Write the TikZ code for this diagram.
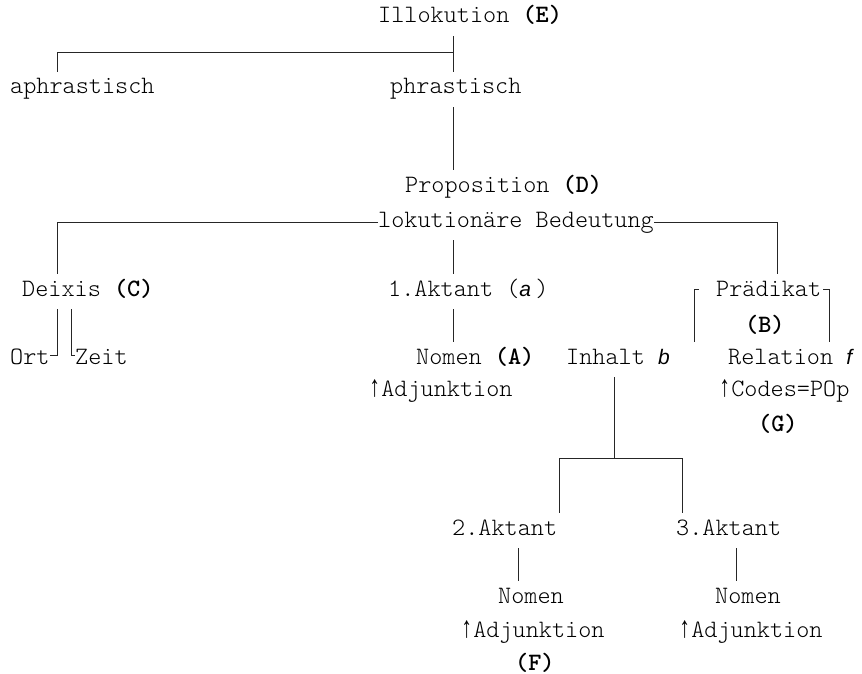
\documentclass[tikz,border=0pt]{standalone}
\usepackage{fontspec}
\setmainfont{Latin Modern Mono Light}
\newfontfamily\varsans{Liberation Sans}
\newfontfamily\arrowfont{Liberation Mono}
\usepackage{tikz}
\pgfdeclarelayer{bg}
\pgfsetlayers{bg,main}
\tikzset{
        lbl/.style={anchor=base west, inner xsep=0pt, inner ysep=9pt,
                text height=13pt, text depth=4pt,
                font=\fontsize{25}{28}\selectfont},
        link/.style={draw=black!85, line width=0.8pt}
}
\newcommand{\var}[1]{{\varsans\itshape\fontsize{21}{24}\selectfont #1}}
\newcommand{\up}{\makebox[0.525em]{\arrowfont\scalebox{0.85}[1.2]{↑}}}

\begin{document}
\begin{tikzpicture}[x=1pt, y=-1pt]
        \useasboundingbox (0,0) rectangle (862,674);
        \node (ill) [lbl] at (378, 23) {Illokution \textbf{(E)}};
        \node (aph) [lbl] at (10, 94) {aphrastisch};
        \node (phr) [lbl] at (390, 94) {phrastisch};
        \node (prop) [lbl] at (405, 192) {Proposition \textbf{(D)}};
        \node (lok) [lbl] at (378, 227) {lokutionäre Bedeutung};
        \node (dei) [lbl] at (22, 296) {Deixis \textbf{(C)}};
        \node (akt1) [lbl] at (388, 296) {1.Aktant (\var{a}\,)};
        \node (pra) [lbl] at (716, 296) {Prädikat};
        \node (labB) [lbl] at (745, 332) {\textbf{(B)}};
        \node (ort) [lbl] at (10, 364) {Ort};
        \node (zeit) [lbl] at (75, 364) {Zeit};
        \node (nom1) [lbl] at (416, 364) {Nomen \textbf{(A)}};
        \node (inh) [lbl] at (566, 364) {Inhalt \var{b}};
        \node (rel) [lbl] at (728, 364) {Relation \var{f}};
        \node (adj1) [lbl] at (368, 396) {\up Adjunktion};
        \node (cod) [lbl] at (718, 396) {\up Codes=POp};
        \node (labG) [lbl] at (758, 431) {\textbf{(G)}};
        \node (akt2) [lbl] at (452, 535) {2.Aktant};
        \node (akt3) [lbl] at (676, 535) {3.Aktant};
        \node (nom2) [lbl] at (498, 603) {Nomen};
        \node (nom3) [lbl] at (715, 603) {Nomen};
        \node (adj2) [lbl] at (460, 637) {\up Adjunktion};
        \node (adj3) [lbl] at (678, 637) {\up Adjunktion};
        \node (labF) [lbl] at (515, 670) {\textbf{(F)}};
        % junction points
        \coordinate (jA) at (453, 52);
        \coordinate (jB) at (57, 52);
        \coordinate (jC) at (57, 0);
        \coordinate (jD) at (777, 0);
        \coordinate (jE) at (57, 0);
        \coordinate (jF) at (71, 0);
        \coordinate (jG) at (694, 289);
        \coordinate (jH) at (829, 289);
        \coordinate (jI) at (614, 458);
        \coordinate (jJ) at (559, 458);
        \coordinate (jK) at (682, 458);
        \coordinate (jL) at (518, 0);
        \coordinate (jM) at (736, 0);
        \begin{pgfonlayer}{bg}
                \draw[link] (ill.south -| jA) -- (phr.north -| jA);
                \draw[link] (jA) -- (jB) -- (aph.north -| jB);
                \draw[link] (phr.south -| jA) -- (prop.north -| jA);
                \draw[link] (lok.west) -- (lok.west -| jC) -- (dei.north -| jC);
                \draw[link] (lok.east) -- (lok.east -| jD) -- (pra.north -| jD);
                \draw[link] (lok.south -| jA) -- (akt1.north -| jA);
                \draw[link] (akt1.south -| jA) -- (nom1.north -| jA);
                \draw[link] (dei.south -| jE) -- ([yshift=4pt]ort.east -| jE) -- ([yshift=4pt]ort.east);
                \draw[link] (dei.south -| jF) -- ([yshift=4pt]zeit.west -| jF) -- ([yshift=4pt]zeit.west);
                \draw[link] ([xshift=5pt]jG) -- (jG) -- (inh.north -| jG);
                \draw[link] ([xshift=-6pt]jH) -- (jH) -- (rel.north -| jH);
                \draw[link] (inh.south -| jI) -- (jI);
                \draw[link] (akt2.north -| jJ) -- (jJ) -- (jK) -- (akt3.north -| jK);
                \draw[link] (akt2.south -| jL) -- (nom2.north -| jL);
                \draw[link] (akt3.south -| jM) -- (nom3.north -| jM);
        \end{pgfonlayer}
\end{tikzpicture}
\end{document}
